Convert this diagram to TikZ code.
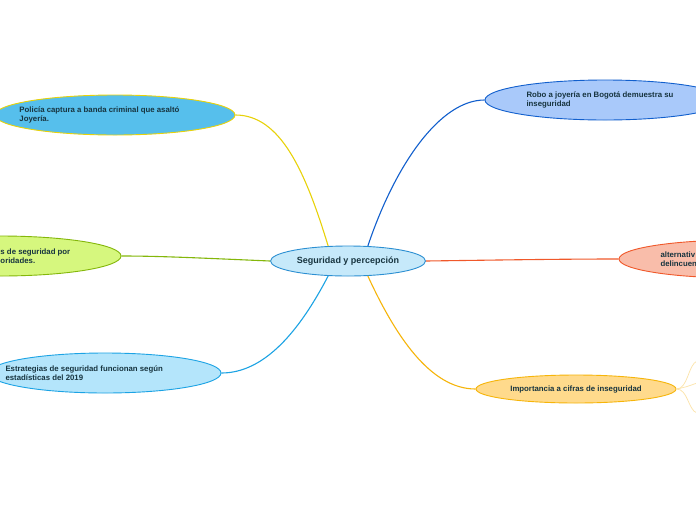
\documentclass[tikz,border=0pt]{standalone}
\usepackage{fontspec}
\setmainfont{Liberation Sans}
\usepackage{tikz}
\usetikzlibrary{positioning,shapes.geometric}

\definecolor{txtcol}{HTML}{17343F}
\definecolor{centrefill}{HTML}{C6E9FA}
\definecolor{centreline}{HTML}{2B8FD2}
\definecolor{skyfill}{HTML}{56BFEC}
\definecolor{yelline}{HTML}{E8D20A}
\definecolor{limefill}{HTML}{D6F77E}
\definecolor{limeline}{HTML}{84B70A}
\definecolor{paleblue}{HTML}{B4E5FB}
\definecolor{cyanline}{HTML}{1CA3E4}
\definecolor{bluefill}{HTML}{A9C9FA}
\definecolor{blueline}{HTML}{115FCD}
\definecolor{redfill}{HTML}{F9BDAA}
\definecolor{redline}{HTML}{F0582A}
\definecolor{orgfill}{HTML}{FFDA8C}
\definecolor{orgline}{HTML}{F6B50A}
\definecolor{faint}{HTML}{FCE3A8}

\begin{document}
\begin{tikzpicture}[x=1pt,y=-1pt,line width=1pt,
    topic/.style={ellipse,draw,line width=0.9pt,inner sep=0pt},
    txt/.style={anchor=west,inner sep=0pt,align=left,text=txtcol,
      font=\fontsize{7.8}{9.2}\selectfont\bfseries},
    link/.style={line width=1.1pt},
    ]
\clip (0,0) rectangle (696,520);
\fill[white] (0,0) rectangle (696,520);

% central topic
\node[topic,draw=centreline,fill=centrefill,minimum width=155pt,minimum height=30pt,
  text=txtcol,font=\fontsize{9}{11}\selectfont\bfseries] (centro) at (348,261) {Seguridad y percepci\'on};

% left side
\node[topic,draw=yelline,fill=skyfill,minimum width=240pt,minimum height=40pt] (policia) at (115,115) {};
\node[txt] (policia-t) at (19,115) {Polic\'ia captura a banda criminal que asalt\'o\\Joyer\'ia.};

\node[topic,draw=limeline,fill=limefill,minimum width=242pt,minimum height=40pt] (medidas) at (0,256) {};
\node[txt] (medidas-t) at (0,256) {s de seguridad por\\oridades.};

\node[topic,draw=cyanline,fill=paleblue,minimum width=232pt,minimum height=40pt] (estrategias) at (105,373) {};
\node[txt] (estrategias-t) at (5,373) {Estrategias de seguridad funcionan seg\'un\\estad\'isticas del 2019};

% right side
\node[topic,draw=blueline,fill=bluefill,minimum width=240pt,minimum height=40pt] (robo) at (605,100) {};
\node[txt] (robo-t) at (526,100) {Robo a joyer\'ia en Bogot\'a demuestra su\\inseguridad};

\node[topic,draw=redline,fill=redfill,minimum width=240pt,minimum height=38pt] (alternativas) at (739,259) {};
\node[txt] (alternativas-t) at (660,259) {alternativ\\delincuen};

\node[topic,draw=orgline,fill=orgfill,minimum width=200pt,minimum height=28pt,
  text=txtcol,font=\fontsize{7.8}{9.2}\selectfont\bfseries] (cifras) at (576,389) {Importancia a cifras de inseguridad};

% connectors
\draw[link,yelline] (centro.143) .. controls (305,170) and (280,115) .. (policia.east);
\draw[link,limeline] (centro.west) .. controls (200,258) and (160,256) .. (medidas.east);
\draw[link,cyanline] (centro.-143) .. controls (300,330) and (265,373) .. (estrategias.east);
\draw[link,blueline] (centro.37) .. controls (395,165) and (440,100) .. (robo.west);
\draw[link,redline] (centro.east) .. controls (500,260) and (560,259) .. (alternativas.west);
\draw[link,orgline] (centro.-37) .. controls (395,335) and (430,389) .. (cifras.west);

% faint sub-branches
\coordinate (sub1) at (697,361);
\coordinate (sub2) at (697,383);
\coordinate (sub3) at (697,413);
\draw[line width=0.7pt,faint] (cifras.east) .. controls (688,389) and (688,365) .. (sub1);
\draw[line width=0.7pt,faint] (cifras.east) .. controls (686,387) .. (sub2);
\draw[line width=0.7pt,faint] (cifras.east) .. controls (688,389) and (688,410) .. (sub3);
\end{tikzpicture}
\end{document}
